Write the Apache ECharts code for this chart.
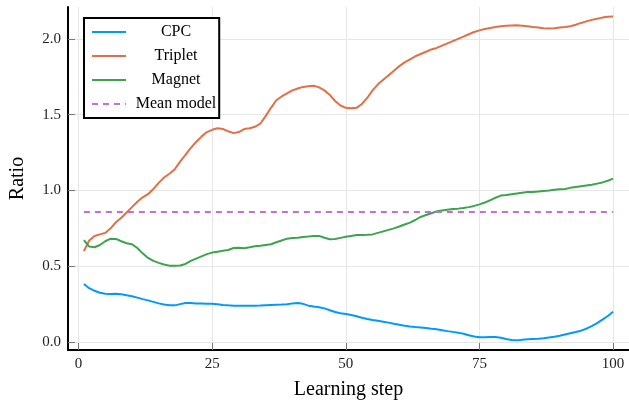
<!DOCTYPE html>
<html>
<head>
<meta charset="utf-8">
<script src="https://cdn.jsdelivr.net/npm/echarts@6/dist/echarts.min.js"></script>
<style>
html,body{margin:0;padding:0;background:#fff;}
#c{width:629px;height:405px;}
</style>
</head>
<body>
<div id="c"></div>
<script>
const steps = Array.from({length: 100}, (_, i) => i + 1);
const xTicks = [0, 25, 50, 75, 100];
const yTicks = [0, 0.5, 1.0, 1.5, 2.0];

const cpc = [0.383,0.355,0.338,0.325,0.318,0.317,0.318,0.315,0.308,0.302,
0.293,0.283,0.275,0.265,0.255,0.248,0.243,0.242,0.25,0.258,
0.257,0.255,0.254,0.253,0.252,0.25,0.245,0.242,0.24,0.24,
0.24,0.24,0.24,0.241,0.243,0.245,0.246,0.247,0.25,0.255,
0.258,0.252,0.24,0.234,0.23,0.222,0.21,0.198,0.19,0.185,
0.178,0.17,0.16,0.152,0.145,0.14,0.134,0.128,0.12,0.114,
0.108,0.103,0.099,0.096,0.093,0.088,0.084,0.078,0.072,0.067,
0.062,0.055,0.045,0.036,0.032,0.031,0.034,0.033,0.028,0.02,
0.013,0.011,0.015,0.018,0.02,0.022,0.025,0.03,0.035,0.042,
0.05,0.058,0.066,0.075,0.088,0.105,0.125,0.148,0.172,0.2];

const triplet = [0.60,0.67,0.70,0.71,0.72,0.75,0.79,0.82,0.855,0.89,
0.925,0.955,0.975,1.01,1.05,1.085,1.11,1.14,1.19,1.235,
1.28,1.32,1.355,1.385,1.40,1.41,1.405,1.39,1.378,1.385,
1.405,1.41,1.42,1.44,1.49,1.545,1.595,1.62,1.64,1.66,
1.672,1.683,1.688,1.69,1.68,1.66,1.63,1.59,1.56,1.545,
1.542,1.545,1.57,1.61,1.66,1.70,1.73,1.76,1.79,1.82,
1.845,1.865,1.885,1.90,1.915,1.93,1.94,1.955,1.97,1.985,
2.0,2.015,2.03,2.045,2.056,2.065,2.072,2.078,2.083,2.086,
2.088,2.089,2.087,2.083,2.078,2.074,2.07,2.069,2.07,2.074,
2.078,2.083,2.093,2.105,2.115,2.125,2.133,2.14,2.145,2.148];

const magnet = [0.673,0.63,0.625,0.64,0.665,0.682,0.68,0.665,0.652,0.645,
0.62,0.585,0.555,0.535,0.522,0.512,0.504,0.503,0.505,0.515,
0.535,0.55,0.565,0.58,0.59,0.596,0.602,0.607,0.62,0.622,
0.619,0.625,0.632,0.635,0.64,0.645,0.658,0.67,0.682,0.686,
0.688,0.693,0.696,0.70,0.70,0.688,0.678,0.68,0.687,0.694,
0.70,0.706,0.706,0.707,0.71,0.72,0.73,0.74,0.75,0.762,
0.775,0.788,0.805,0.825,0.838,0.85,0.862,0.867,0.872,0.877,
0.88,0.884,0.89,0.898,0.908,0.92,0.935,0.952,0.966,0.97,
0.975,0.98,0.985,0.99,0.99,0.993,0.997,1.0,1.004,1.008,
1.01,1.017,1.022,1.027,1.032,1.037,1.045,1.053,1.064,1.078];

const meanModel = steps.map(() => 0.857);

const FONT = "'Liberation Serif', 'DejaVu Serif', serif";
const pair = (ys) => steps.map((s, i) => [s, ys[i]]);

const chart = echarts.init(document.getElementById('c'), null, {renderer: 'canvas'});
chart.setOption({
  animation: false,
  backgroundColor: '#ffffff',
  textStyle: {fontFamily: FONT},
  grid: {left: 67, right: 0, top: 7, bottom: 54, containLabel: false},
  legend: {
    left: 84, top: 18, orient: 'vertical',
    borderColor: '#000', borderWidth: 2, padding: [6, 3, 6, 7],
    itemWidth: 34, itemHeight: 14, itemGap: 8,
    backgroundColor: '#fff',
    itemStyle: {opacity: 0},
    formatter: (name) => '{t|' + name + '}',
    textStyle: {
      fontFamily: FONT, fontSize: 16, color: '#000',
      rich: {t: {width: 90, align: 'center', fontFamily: FONT, fontSize: 16, color: '#000'}}
    },
    data: ['CPC', 'Triplet', 'Magnet', 'Mean model']
  },
  xAxis: {
    type: 'value', min: -1.97, max: 102.97,
    name: 'Learning step', nameLocation: 'middle', nameGap: 30,
    nameTextStyle: {fontFamily: FONT, fontSize: 20, color: '#000'},
    axisLine: {show: true, onZero: false, lineStyle: {color: '#000', width: 2}},
    axisTick: {show: true, inside: true, length: 7, customValues: xTicks, lineStyle: {color: '#777', width: 1}},
    axisLabel: {customValues: xTicks, fontFamily: FONT, fontSize: 15, color: '#222', margin: 7,
      formatter: (v) => String(Math.round(v))},
    splitLine: {show: true, lineStyle: {color: '#e6e6e6', width: 1}}
  },
  yAxis: {
    type: 'value', min: -0.0525, max: 2.21,
    name: 'Ratio', nameLocation: 'middle', nameGap: 40,
    nameTextStyle: {fontFamily: FONT, fontSize: 20, color: '#000'},
    axisLine: {show: true, onZero: false, lineStyle: {color: '#000', width: 2}},
    axisTick: {show: true, inside: true, length: 7, customValues: yTicks, lineStyle: {color: '#777', width: 1}},
    axisLabel: {customValues: yTicks, fontFamily: FONT, fontSize: 15, color: '#222', margin: 7,
      formatter: (v) => v.toFixed(1)},
    splitLine: {show: true, lineStyle: {color: '#e6e6e6', width: 1}}
  },
  series: [
    {name: 'CPC', type: 'line', data: pair(cpc), showSymbol: false, symbol: 'none',
      lineStyle: {color: '#009AFA', width: 2}, itemStyle: {color: '#009AFA'}},
    {name: 'Triplet', type: 'line', data: pair(triplet), showSymbol: false, symbol: 'none',
      lineStyle: {color: '#E26F46', width: 2}, itemStyle: {color: '#E26F46'}},
    {name: 'Magnet', type: 'line', data: pair(magnet), showSymbol: false, symbol: 'none',
      lineStyle: {color: '#3DA44D', width: 2}, itemStyle: {color: '#3DA44D'}},
    {name: 'Mean model', type: 'line', data: pair(meanModel), showSymbol: false, symbol: 'none',
      lineStyle: {color: '#C271D2', width: 2, type: [6, 5]}, itemStyle: {color: '#C271D2'}}
  ]
});
</script>
</body>
</html>
